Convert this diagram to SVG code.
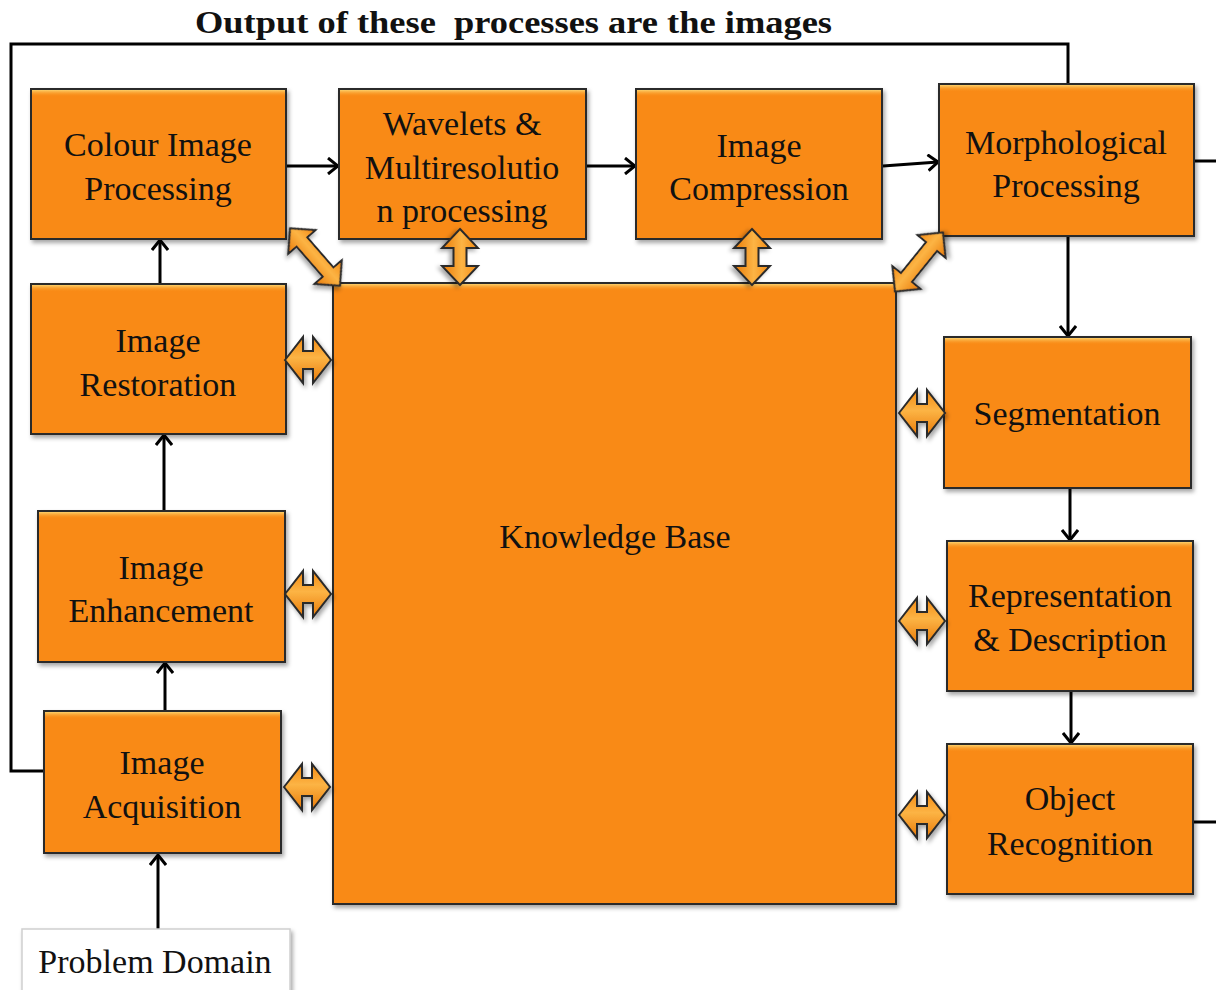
<svg xmlns="http://www.w3.org/2000/svg" width="1216" height="990" viewBox="0 0 1216 990">
  <style>
    .box { fill: #F98A12; stroke: #2a2a2a; stroke-width: 2; filter: url(#shadow); }
    .hl { fill: url(#topGlow); stroke: none; }
    .lbl { font-family: "Liberation Serif", "Times New Roman", serif; font-size: 34px; fill: #111; text-anchor: middle; }
    .title { font-family: "Liberation Serif", "Times New Roman", serif; font-size: 32px; font-weight: bold; fill: #111; white-space: pre; }
    .wire { fill: none; stroke: #000; stroke-width: 3; }
    .arrow { fill: none; stroke: #000; stroke-width: 3; marker-end: url(#chev); }
    .dbl { fill: url(#dblFill); stroke: #2a2a2a; stroke-width: 2; stroke-linejoin: miter; filter: url(#shadow); }
  </style>
  <defs>
    <filter id="shadow" x="-10%" y="-10%" width="130%" height="130%">
      <feDropShadow dx="2" dy="3" stdDeviation="2" flood-color="#000" flood-opacity="0.35"/>
    </filter>
    <linearGradient id="topGlow" x1="0" y1="0" x2="0" y2="1">
      <stop offset="0" stop-color="#FCD06A"/>
      <stop offset="1" stop-color="#F98A12" stop-opacity="0"/>
    </linearGradient>
    <linearGradient id="dblFill" x1="0" y1="0" x2="0" y2="1">
      <stop offset="0" stop-color="#F48A12"/>
      <stop offset="0.45" stop-color="#FCB445"/>
      <stop offset="1" stop-color="#E97A08"/>
    </linearGradient>
    <marker id="chev" viewBox="0 0 12 18" refX="11" refY="9" markerWidth="12" markerHeight="18" markerUnits="userSpaceOnUse" orient="auto">
      <path d="M1,1 L11,9 L1,17" fill="none" stroke="#000" stroke-width="3"/>
    </marker>
    <!-- double-headed block arrows, drawn horizontally around the origin -->
    <path id="dblShort" d="M-23,0 L-5,-23 L-5,-9 L5,-9 L5,-23 L23,0 L5,23 L5,9 L-5,9 L-5,23 Z"/>
    <path id="dblLong" d="M-28,0 L-9,-18 L-9,-6.5 L9,-6.5 L9,-18 L28,0 L9,18 L9,6.5 L-9,6.5 L-9,18 Z"/>
    <path id="dblDiag" d="M-38,0 L-20,-18 L-20,-7 L20,-7 L20,-18 L38,0 L20,18 L20,7 L-20,7 L-20,18 Z"/>
  </defs>

  <rect width="1216" height="990" fill="#fff"/>

  <text class="title" x="195" y="33" textLength="637" lengthAdjust="spacingAndGlyphs">Output of these  processes are the images</text>

  <!-- connectors -->
  <g id="connectors">
    <polyline class="wire" points="1068,84 1068,44 11,44 11,771 44,771"/>
    <line class="arrow" x1="287" y1="166" x2="338" y2="166"/>
    <line class="arrow" x1="586" y1="166" x2="635" y2="166"/>
    <line class="arrow" x1="883" y1="166" x2="938" y2="162"/>
    <line class="wire" x1="1194" y1="161" x2="1216" y2="161"/>
    <line class="wire" x1="1194" y1="822" x2="1216" y2="822"/>
    <line class="arrow" x1="1068" y1="236" x2="1068" y2="336"/>
    <line class="arrow" x1="1070" y1="488" x2="1070" y2="540"/>
    <line class="arrow" x1="1071" y1="691" x2="1071" y2="743"/>
    <line class="arrow" x1="160" y1="284" x2="160" y2="240"/>
    <line class="arrow" x1="164" y1="511" x2="164" y2="435"/>
    <line class="arrow" x1="165" y1="711" x2="165" y2="663"/>
    <line class="arrow" x1="158" y1="930" x2="158" y2="855"/>
  </g>

  <!-- nodes -->
  <g id="knowledge-base">
    <rect class="box" x="333" y="283" width="563" height="621"/>
    <rect class="hl" x="334" y="284" width="561" height="7"/>
    <text class="lbl" x="615" y="548">Knowledge Base</text>
  </g>
  <g id="colour-image-processing">
    <rect class="box" x="31" y="89" width="255" height="150"/>
    <rect class="hl" x="32" y="90" width="253" height="7"/>
    <text class="lbl" x="158" y="156">Colour Image</text>
    <text class="lbl" x="158" y="200">Processing</text>
  </g>
  <g id="wavelets">
    <rect class="box" x="339" y="89" width="247" height="150"/>
    <rect class="hl" x="340" y="90" width="245" height="7"/>
    <text class="lbl" x="462" y="135">Wavelets &amp;</text>
    <text class="lbl" x="462" y="179">Multiresolutio</text>
    <text class="lbl" x="462" y="222">n processing</text>
  </g>
  <g id="image-compression">
    <rect class="box" x="636" y="89" width="246" height="150"/>
    <rect class="hl" x="637" y="90" width="244" height="7"/>
    <text class="lbl" x="759" y="157">Image</text>
    <text class="lbl" x="759" y="200">Compression</text>
  </g>
  <g id="morphological-processing">
    <rect class="box" x="939" y="84" width="255" height="152"/>
    <rect class="hl" x="940" y="85" width="253" height="7"/>
    <text class="lbl" x="1066" y="154">Morphological</text>
    <text class="lbl" x="1066" y="197">Processing</text>
  </g>
  <g id="image-restoration">
    <rect class="box" x="31" y="284" width="255" height="150"/>
    <rect class="hl" x="32" y="285" width="253" height="7"/>
    <text class="lbl" x="158" y="352">Image</text>
    <text class="lbl" x="158" y="396">Restoration</text>
  </g>
  <g id="image-enhancement">
    <rect class="box" x="38" y="511" width="247" height="151"/>
    <rect class="hl" x="39" y="512" width="245" height="7"/>
    <text class="lbl" x="161" y="579">Image</text>
    <text class="lbl" x="161" y="622">Enhancement</text>
  </g>
  <g id="image-acquisition">
    <rect class="box" x="44" y="711" width="237" height="142"/>
    <rect class="hl" x="45" y="712" width="235" height="7"/>
    <text class="lbl" x="162" y="774">Image</text>
    <text class="lbl" x="162" y="818">Acquisition</text>
  </g>
  <g id="segmentation">
    <rect class="box" x="944" y="337" width="247" height="151"/>
    <rect class="hl" x="945" y="338" width="245" height="7"/>
    <text class="lbl" x="1067" y="425">Segmentation</text>
  </g>
  <g id="representation-description">
    <rect class="box" x="947" y="541" width="246" height="150"/>
    <rect class="hl" x="948" y="542" width="244" height="7"/>
    <text class="lbl" x="1070" y="607">Representation</text>
    <text class="lbl" x="1070" y="651">&amp; Description</text>
  </g>
  <g id="object-recognition">
    <rect class="box" x="947" y="744" width="246" height="150"/>
    <rect class="hl" x="948" y="745" width="244" height="7"/>
    <text class="lbl" x="1070" y="810">Object</text>
    <text class="lbl" x="1070" y="855">Recognition</text>
  </g>
  <g id="problem-domain">
    <rect x="22" y="929" width="268" height="66" fill="#fff" stroke="#cfcfcf" stroke-width="1.5" filter="url(#shadow)"/>
    <text class="lbl" x="155" y="973">Problem Domain</text>
  </g>

  <!-- two-way links with the knowledge base -->
  <g id="kb-links">
    <use href="#dblShort" class="dbl" transform="translate(308,360)"/>
    <use href="#dblShort" class="dbl" transform="translate(308,594)"/>
    <use href="#dblShort" class="dbl" transform="translate(307,787)"/>
    <use href="#dblShort" class="dbl" transform="translate(922,413)"/>
    <use href="#dblShort" class="dbl" transform="translate(922,621)"/>
    <use href="#dblShort" class="dbl" transform="translate(922,815)"/>
    <use href="#dblLong" class="dbl" transform="translate(460,257) rotate(90)"/>
    <use href="#dblLong" class="dbl" transform="translate(752,257) rotate(90)"/>
    <use href="#dblDiag" class="dbl" transform="translate(315,257) rotate(49)"/>
    <use href="#dblDiag" class="dbl" transform="translate(919,262) rotate(-51)"/>
  </g>
</svg>
